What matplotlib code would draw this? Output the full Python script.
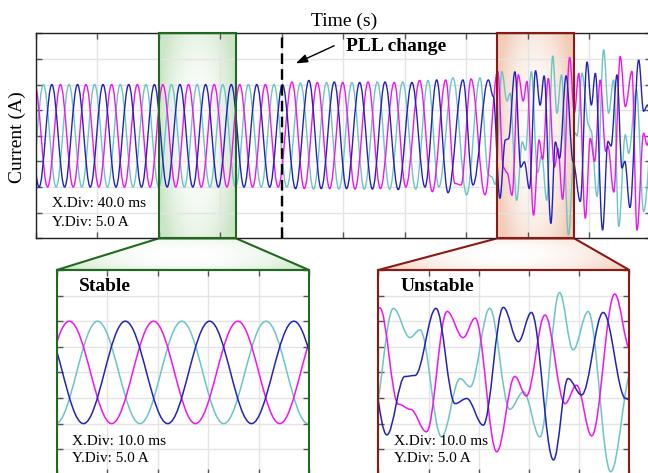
import numpy as np
import matplotlib
matplotlib.use('Agg')
import matplotlib.pyplot as plt
from matplotlib.path import Path
from matplotlib.patches import PathPatch, Rectangle, Polygon

plt.rcParams['font.family'] = ['Liberation Serif', 'DejaVu Serif']

# waveform extrema: time (ms), current (A)
mag_t = [-0.8, 7.5, 15.9, 24.2, 32.5, 40.9, 49.2, 57.5, 65.9, 74.2, 82.5, 90.9, 99.2, 107.5, 115.9, 124.2, 132.5, 140.9, 149.2, 157.5,
         166.5, 174.5, 183.0, 191.0, 199.5, 207.5, 216.0, 224.0, 233.0, 240.5, 249.5, 257.8, 266.5, 272.5, 276.5, 283.0, 292.0, 300.3,
         304.0, 306.4, 309.6, 313.7, 316.9, 319.3, 323.6, 327.2, 329.5, 333.2, 337.2, 339.5, 342.5, 347.1,
         350.2, 353.0, 357.3, 360.5, 363.3, 367.0, 370.5, 372.0, 375.8, 380.0, 383.3, 387.6, 390.9, 395.2, 397.5, 402.0]
mag_i = [10, -10, 10, -10, 10, -10, 10, -10, 10, -10, 10, -10, 10, -10, 10, -10, 10, -10, 10, -10,
         10.5, -10.3, 10.4, -10.3, 10.4, -10.4, 10.5, -10.3, 10.4, -10.0, 10.8, -10.9, 10.9, -9.3, -9.6, 11.1, -11.5, 12.6,
         -6.2, -7.2, -11.6, 11.9, 6.8, 10.6, -15.5, -0.8, -4.6, 11.2, -6.1, -2.5, -12.4, 15.3,
         4.5, 12.2, -16.1, -0.5, -5.0, 10.9, -3.0, -2.0, -11.0, 15.5, 5.7, 12.6, -18.4, 0.5, -1.8, 8.0]

blue_t = [-6.3, 2.0, 10.3, 18.6, 27.0, 35.3, 43.6, 52.0, 60.3, 68.6, 77.0, 85.3, 93.6, 102.0, 110.3, 118.6, 127.0, 135.3, 143.6, 152.0, 160.3,
          168.8, 177.5, 185.5, 194.0, 202.0, 210.5, 218.8, 227.0, 235.6, 244.5, 253.0, 260.6, 268.0, 277.7, 284.2, 294.2, 297.4, 301.7,
          305.3, 307.3, 311.5, 315.3, 317.6, 320.9, 324.9, 327.9, 330.5, 334.9, 337.8, 340.5, 344.8, 349.3,
          354.0, 358.4, 361.2, 363.8, 368.5, 372.0, 374.0, 377.9, 381.1, 383.0, 386.3, 392.0, 395.2, 397.8, 402.0]
blue_i = [10, -10, 10, -10, 10, -10, 10, -10, 10, -10, 10, -10, 10, -10, 10, -10, 10, -10, 10, -10, 10,
          -10.3, 10.8, -10.3, 10.5, -10.3, 10.4, -10.4, 10.5, -10.5, 10.4, -10.0, 10.9, -11.1, 10.9, -9.6, 10.9, 7.7, -12.2,
          -0.8, -0.6, 12.5, -6.1, -5.1, -10.3, 12.7, 6.0, 11.7, -17.1, -1.2, -4.4, 11.7, -5.1,
          -12.8, 14.4, 6.0, 12.2, -18.4, -1.1, -2.0, 11.9, -6.3, -5.0, -14.0, 14.8, 4.8, 6.0, -4.0]

cyan_t = [-3.5, 4.8, 13.1, 21.5, 29.8, 38.1, 46.5, 54.8, 63.1, 71.5, 79.8, 88.1, 96.5, 104.8, 113.1, 121.5, 129.8, 138.1, 146.5, 154.8,
          163.1, 172.0, 180.5, 189.0, 197.0, 205.5, 213.5, 222.0, 230.0, 238.5, 247.0, 255.0, 262.0, 271.2, 280.1, 288.8, 294.3, 296.3, 298.8,
          303.0, 306.3, 308.3, 312.6, 316.3, 318.3, 322.2, 326.2, 328.9, 332.2, 336.1, 338.8, 341.8, 346.3,
          350.6, 351.9, 355.1, 359.5, 361.0, 364.9, 369.2, 372.4, 375.7, 379.0, 383.3, 385.5, 390.5, 395.2, 402.0]
cyan_i = [-10, 10, -10, 10, -10, 10, -10, 10, -10, 10, -10, 10, -10, 10, -10, 10, -10, 10, -10, 10,
          -10.0, 10.3, -10.4, 10.4, -10.4, 10.4, -10.4, 10.5, -10.4, 10.5, -10.4, 10.8, -10.0, 11.3, -11.5, 11.3, -7.6, -8.0, -9.5,
          12.5, 6.8, 8.3, -12.6, -1.2, -2.8, 12.5, -7.2, -3.8, -12.6, 15.6, 4.4, 11.9, -19.4,
          0.6, 0.0, 12.2, 2.0, 1.0, -11.8, 16.8, 4.4, 10.9, -17.7, 0.2, -3.4, 9.0, -14.8, 5.0]

pll_time = 160.3
stable_win = (80, 130)
unstable_win = (300, 350)

MAG, BLUE, CYAN = '#f014f0', '#2323b8', '#6cc4c4'
GREEN, RED = '#1f6a1f', '#8c1a14'
GREEN_TINT, RED_TINT = (0.80, 0.90, 0.78), (0.95, 0.80, 0.72)


def wave_path(t, v, a=0.363):
    # smooth half-cycles between extrema (horizontal tangent at each extremum)
    verts = [(t[0], v[0])]
    codes = [Path.MOVETO]
    for t0, v0, t1, v1 in zip(t[:-1], v[:-1], t[1:], v[1:]):
        d = (t1 - t0) * a
        verts += [(t0 + d, v0), (t1 - d, v1), (t1, v1)]
        codes += [Path.CURVE4] * 3
    return Path(verts, codes)


def draw_waves(ax, lw):
    for t, v, c in [(cyan_t, cyan_i, CYAN), (mag_t, mag_i, MAG), (blue_t, blue_i, BLUE)]:
        ax.add_patch(PathPatch(wave_path(t, v), fill=False, ec=c, lw=lw, zorder=2))


def glow_img(tint, ku, kv, nx=60, ny=80):
    U, V = np.meshgrid(np.linspace(-1, 1, nx), np.linspace(-1, 1, ny))
    f = np.clip(ku * U**2 + kv * V**2, 0, 1)[..., None]
    return (1 - f) * np.ones(3) + f * np.array(tint)


def scope_axes(ax, xlim, xstep, spine_color, spine_lw):
    ax.set_xlim(*xlim)
    ax.set_ylim(-20, 20)
    ax.set_xticks(np.arange(xlim[0], xlim[1] + 1, xstep))
    ax.set_yticks(np.arange(-20, 21, 5))
    ax.tick_params(direction='in', length=4, width=1, color='#555555', top=True, right=True,
                   labelbottom=False, labelleft=False)
    ax.grid(True, color='#e4e4e4', lw=1.0)
    ax.set_axisbelow(True)
    for s in ax.spines.values():
        s.set_color(spine_color)
        s.set_linewidth(spine_lw)


fig = plt.figure(figsize=(6.48, 4.73), dpi=100)
W, H = 648, 473

axbg = fig.add_axes([0, 0, 1, 1], zorder=-1)
axbg.set_axis_off()
axbg.set_xlim(0, 1)
axbg.set_ylim(0, 1)

ax = fig.add_axes([36 / W, 1 - 238.3 / H, 615 / W, 205 / H])
ax1 = fig.add_axes([56.7 / W, 1 - 474.8 / H, 252.3 / W, 204.8 / H])
ax2 = fig.add_axes([378.3 / W, 1 - 474.8 / H, 251 / W, 204.8 / H])

# main trace
for win, tint in [(stable_win, GREEN_TINT), (unstable_win, RED_TINT)]:
    ax.imshow(glow_img(tint, 0.9, 0.45), extent=[win[0], win[1], -20, 20], aspect='auto',
              zorder=0.2, interpolation='bilinear')
draw_waves(ax, 1.0)
scope_axes(ax, (0, 400), 40, '#222222', 1.0)
ax.axvline(pll_time, color='k', lw=1.7, ls=(0, (4.5, 2.2)), zorder=3)
for (t0, t1), c in [(stable_win, GREEN), (unstable_win, RED)]:
    ax.add_patch(Rectangle((t0, -20), t1 - t0, 40, fill=False, ec=c, lw=1.5, zorder=4, clip_on=False))
ax.annotate('', xy=(167.3, 13.9), xytext=(195.6, 17.8),
            arrowprops=dict(arrowstyle='-|>,head_length=0.7,head_width=0.25', color='k', lw=1.0))
ax.text(201.4, 17.4, 'PLL change', fontsize=14, fontweight='bold', va='center', ha='left')
ax.text(10.2, -13.3, 'X.Div: 40.0 ms', fontsize=11, va='center')
ax.text(10.2, -16.9, 'Y.Div: 5.0 A', fontsize=11, va='center')

# zoomed windows
for a_in, win, c, title in [(ax1, stable_win, GREEN, 'Stable'), (ax2, unstable_win, RED, 'Unstable')]:
    draw_waves(a_in, 1.1)
    scope_axes(a_in, win, 10, c, 1.5)
    a_in.text(win[0] + 4.5, 16.7, title, fontsize=14, fontweight='bold', va='center')
    a_in.text(win[0] + 3.1, -13.4, 'X.Div: 10.0 ms', fontsize=11, va='center')
    a_in.text(win[0] + 3.1, -16.9, 'Y.Div: 5.0 A', fontsize=11, va='center')

# connectors from the boxes to the zoomed windows, faint glow inside
inv = axbg.transData.inverted()
for a_in, win, c, tint in [(ax1, stable_win, GREEN, GREEN_TINT), (ax2, unstable_win, RED, RED_TINT)]:
    p0 = inv.transform(ax.transData.transform((win[0], -20)))
    p1 = inv.transform(ax.transData.transform((win[1], -20)))
    q1 = inv.transform(a_in.transAxes.transform((1, 1)))
    q0 = inv.transform(a_in.transAxes.transform((0, 1)))
    pts = [p0, p1, q1, q0]
    clip = Polygon(pts, closed=True, fc='none', ec='none', transform=axbg.transData)
    axbg.add_patch(clip)
    im = axbg.imshow(glow_img(tint, 0.75, 0.25, 120, 30), extent=[q0[0], q1[0], q0[1], p0[1]],
                     aspect='auto', interpolation='bilinear')
    im.set_clip_path(clip)
    axbg.add_patch(Polygon(pts, closed=True, fill=False, ec=c, lw=1.5, transform=axbg.transData))
axbg.set_xlim(0, 1)
axbg.set_ylim(0, 1)

fig.text(343.7 / W, 1 - 21 / H, 'Time (s)', fontsize=14, ha='center', va='center')
fig.text(17.5 / W, 1 - 136.7 / H, 'Current (A)', fontsize=14, ha='center', va='center', rotation=90)

fig.savefig('out.png', dpi=100)
